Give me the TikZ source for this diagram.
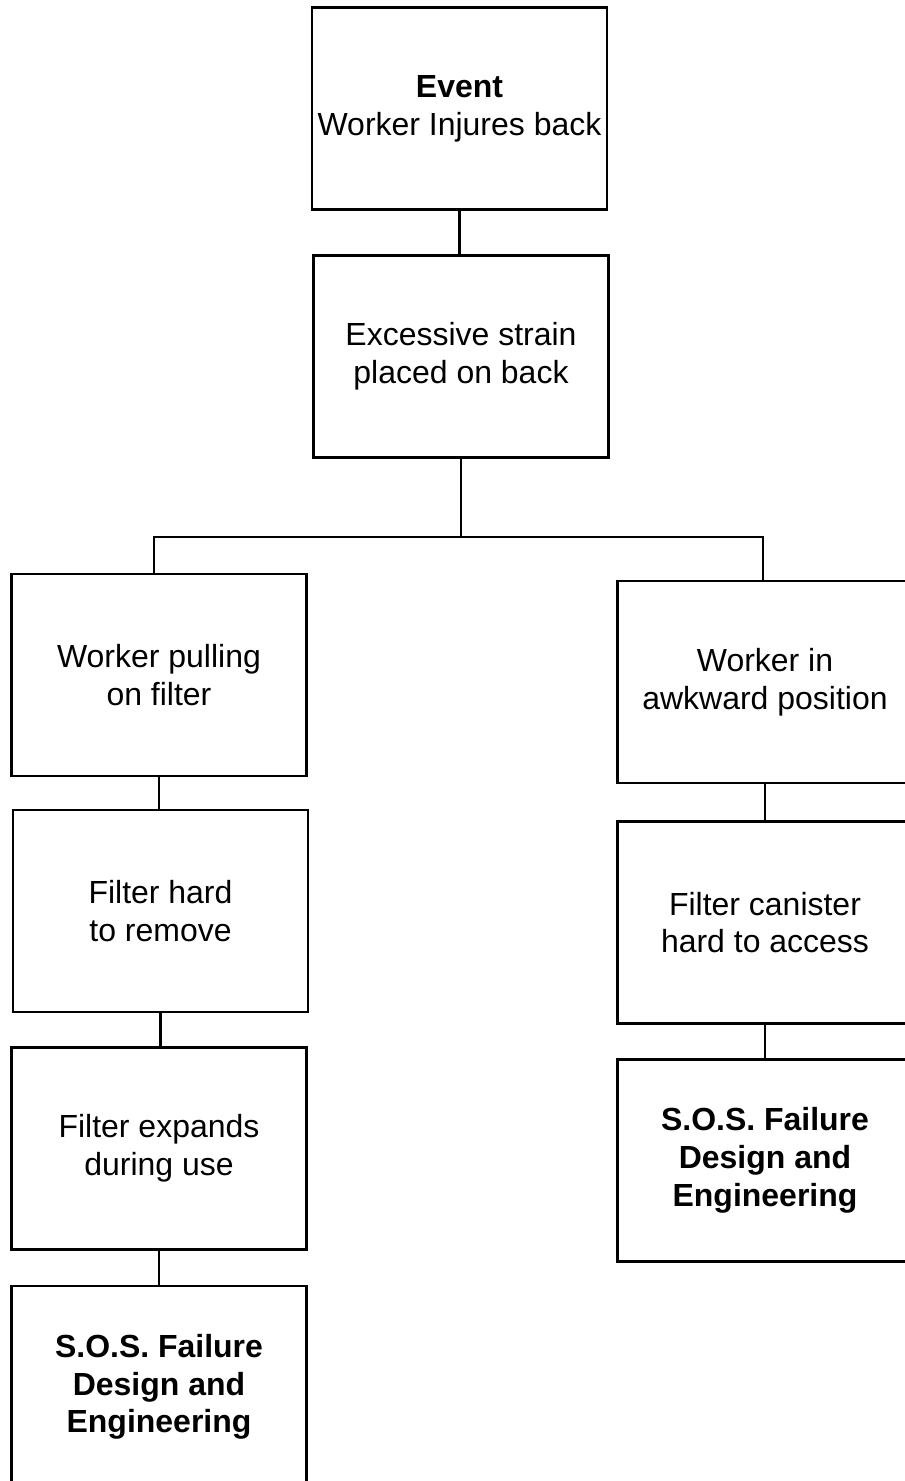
\documentclass[tikz,border=0pt]{standalone}
\usepackage{fontspec}
\setmainfont{Liberation Sans}
\usepackage{tikz}
\usetikzlibrary{positioning}

\tikzset{
	cause/.style={draw, line width=1.6pt, align=center, inner sep=0pt,
		minimum width=5.9cm, minimum height=4.04cm,
		font=\fontsize{18.2}{21.5}\selectfont},
	link/.style={line width=1.4pt}
}

\begin{document}
\begin{tikzpicture}[x=0.02cm, y=-0.02cm]
		\useasboundingbox (0,0) rectangle (905,1481);
		\clip (0,0) rectangle (905,1481);

		\node[cause] (event) at (459.5,108.5) {\textbf{Event}\\Worker Injures back};
		\node[cause] (strain) at (461,356.5) {Excessive strain\\placed on back};

		\node[cause] (pull) at (159,675) {Worker pulling\\on filter};
		\node[cause] (hard) at (160.5,911) {Filter hard\\to remove};
		\node[cause] (expand) at (159,1148.5) {Filter expands\\during use};
		\node[cause, font=\fontsize{18.2}{21.5}\selectfont\bfseries] (sosL) at (159,1387) {S.O.S. Failure\\Design and\\Engineering};

		\node[cause] (awk) at (765,682) {Worker in\\awkward position};
		\node[cause] (canister) at (765,922.5) {Filter canister\\hard to access};
		\node[cause, font=\fontsize{18.2}{21.5}\selectfont\bfseries] (sosR) at (765,1160.5) {S.O.S. Failure\\Design and\\Engineering};

		\coordinate (fork) at (462,537);

		\draw[link] (event.south) -- (event.south |- strain.north);
		\draw[link] (strain.south) -- (strain.south |- fork);
		\draw[link] ([xshift=-0.1cm]pull.north) |- (fork) -| ([xshift=-0.04cm]awk.north);

		\draw[link] (pull.south) -- (pull.south |- hard.north);
		\draw[link] (hard.south) -- (hard.south |- expand.north);
		\draw[link] (expand.south) -- (expand.south |- sosL.north);

		\draw[link] (awk.south) -- (awk.south |- canister.north);
		\draw[link] (canister.south) -- (canister.south |- sosR.north);
\end{tikzpicture}
\end{document}
